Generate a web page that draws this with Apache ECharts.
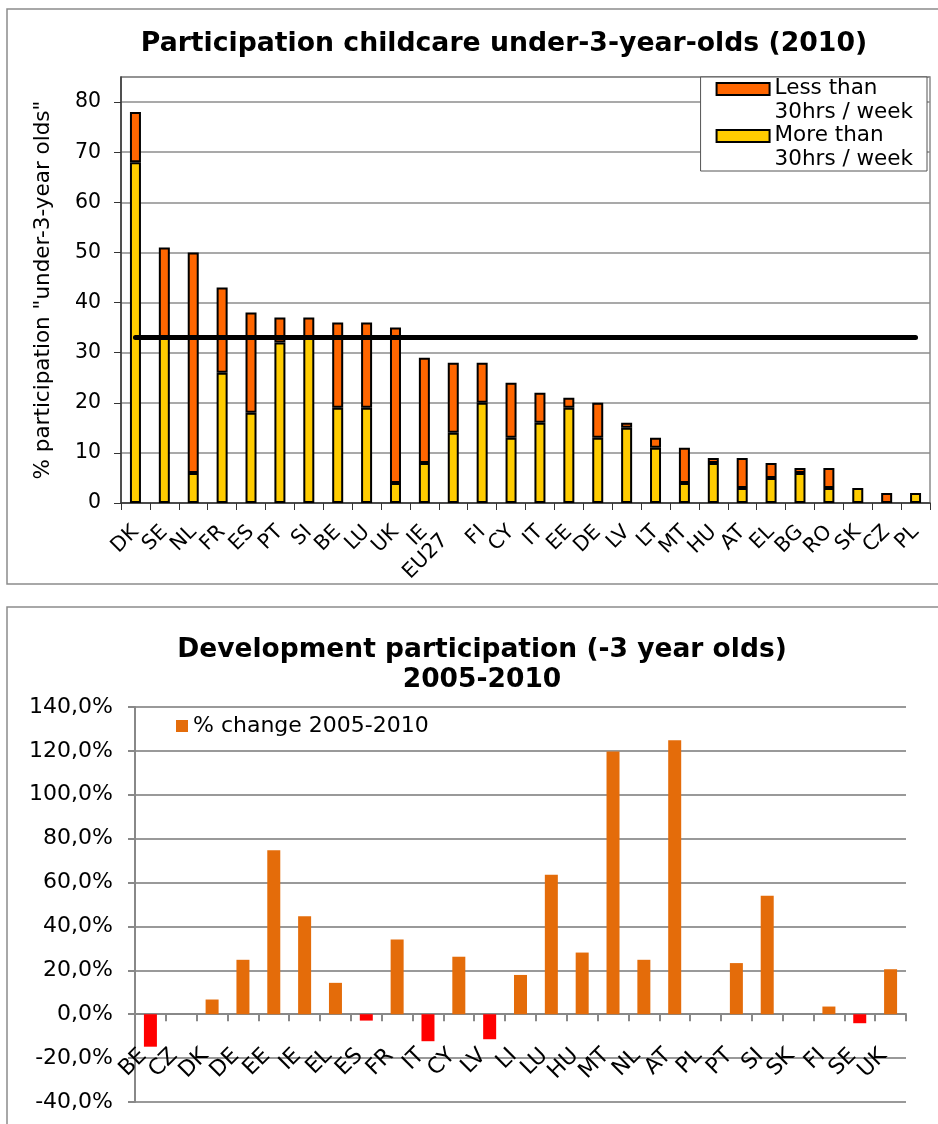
<!DOCTYPE html>
<html><head><meta charset="utf-8">
<script src="https://cdn.jsdelivr.net/npm/echarts@6/dist/echarts.min.js"></script>
<style>html,body{margin:0;padding:0;background:#fff}#c{width:938px;height:1124px}</style>
</head><body><div id="c"></div>
<script>
// ---- Chart 1: participation childcare under-3-year-olds (2010) ----
const countries2010 = ['DK','SE','NL','FR','ES','PT','SI','BE','LU','UK','IE','EU27','FI','CY','IT','EE','DE','LV','LT','MT','HU','AT','EL','BG','RO','SK','CZ','PL'];
const moreThan30hrs = [68,33,6,26,18,32,33,19,19,4,8,14,20,13,16,19,13,15,11,4,8,3,5,6,3,3,0,2];
const lessThan30hrs = [10,18,44,17,20,5,4,17,17,31,21,14,8,11,6,2,7,1,2,7,1,6,3,1,4,0,2,0];
const barcelonaTarget = [33,33,33,33,33,33,33,33,33,33,33,33,33,33,33,33,33,33,33,33,33,33,33,33,33,33,33,33];

// ---- Chart 2: development participation 2005-2010 ----
const countriesChange = ['BE','CZ','DK','DE','EE','IE','EL','ES','FR','IT','CY','LV','LI','LU','HU','MT','NL','AT','PL','PT','SI','SK','FI','SE','UK'];
const changePct = [-14.8,0,6.7,24.8,74.7,44.7,14.3,-2.9,34.1,-12.3,26.2,-11.4,17.9,63.6,28.1,119.7,24.8,124.9,0,23.3,54.0,0,3.5,-4.1,20.5];

const FONT = 'DejaVu Sans';
const ORANGE = '#FF6600', YELLOW = '#FFCC00', CHANGE = '#E46C0A', NEG = '#FF0000';

const chart = echarts.init(document.getElementById('c'), null, {renderer: 'canvas'});
const nz = v => (v === 0 ? '-' : v);

// bottom grid geometry (used to put the category axis on the 0 line)
const g2Top = 707, g2Bottom = 22, g2Min = -40, g2Max = 140;
const g2Height = 1124 - g2Top - g2Bottom;
const zeroOffset = -g2Height * (0 - g2Min) / (g2Max - g2Min);

chart.setOption({
  animation: false,
  backgroundColor: '#fff',
  textStyle: {fontFamily: FONT},
  graphic: [
    {type: 'rect', silent: true, z: -10, shape: {x: 7, y: 9, width: 1000, height: 575}, style: {fill: 'none', stroke: '#8c8c8c', lineWidth: 1.5}},
    {type: 'rect', silent: true, z: -10, shape: {x: 7, y: 607, width: 1000, height: 600}, style: {fill: 'none', stroke: '#8c8c8c', lineWidth: 1.5}}
  ],
  title: [
    {text: 'Participation childcare under-3-year-olds (2010)', left: 499, top: 26, textAlign: 'center',
     textStyle: {fontFamily: FONT, fontSize: 26.7, fontWeight: 'bold', color: '#000'}},
    {text: 'Development participation (-3 year olds)\n2005-2010', left: 477, top: 630, textAlign: 'center',
     textStyle: {fontFamily: FONT, fontSize: 26.5, fontWeight: 'bold', color: '#000', lineHeight: 30}}
  ],
  legend: [
    {data: ['Less than 30hrs / week', 'More than 30hrs / week'], orient: 'vertical',
     right: 11, top: 77, padding: [0, 14, 0, 15], itemGap: 0, itemWidth: 53, itemHeight: 45,
     icon: 'path://M0,0M53,45M0,5h53v12h-53z',
     backgroundColor: '#fff', borderColor: '#555', borderWidth: 1,
     formatter: n => n.replace(' 30', '\n30'),
     textStyle: {fontFamily: FONT, fontSize: 21.5, lineHeight: 23.5, color: '#000'}},
    {data: ['% change 2005-2010'], left: 176, top: 715, padding: 0, itemWidth: 12, itemHeight: 12, icon: 'rect',
     textStyle: {fontFamily: FONT, fontSize: 22, color: '#000'}}
  ],
  grid: [
    {left: 121, right: 8, top: 77, bottom: 621, show: true, borderColor: '#8c8c8c', borderWidth: 1.5, containLabel: false},
    {left: 135, right: 32, top: g2Top, bottom: g2Bottom, containLabel: false}
  ],
  xAxis: [
    {gridIndex: 0, type: 'category', data: countries2010,
     axisLine: {show: true, lineStyle: {color: '#333', width: 1.5}},
     axisTick: {show: true, length: 7, lineStyle: {color: '#333'}},
     axisLabel: {interval: 0, rotate: 45, margin: 26, fontSize: 20.5, color: '#000', fontFamily: FONT,
       formatter: v => (v === 'EU27' ? '{low|EU27}' : v),
       rich: {low: {fontSize: 20.5, fontFamily: FONT, color: '#000', padding: [0, 12, 0, 0]}}},
     splitLine: {show: false}},
    {gridIndex: 1, type: 'category', data: countriesChange, offset: zeroOffset,
     axisLine: {show: true, onZero: false, lineStyle: {color: '#888', width: 2}},
     axisTick: {show: true, length: 7, lineStyle: {color: '#888', width: 2}},
     axisLabel: {interval: 0, rotate: 45, margin: 31, fontSize: 22, color: '#000', fontFamily: FONT,
       formatter: v => '{c|' + v + '}',
       rich: {c: {fontSize: 22, fontFamily: FONT, color: '#000', padding: [0, 10, 0, 0]}}},
     splitLine: {show: false}}
  ],
  yAxis: [
    {gridIndex: 0, type: 'value', min: 0, max: 85, interval: 10,
     name: '% participation "under-3-year olds"', nameLocation: 'middle', nameGap: 67,
     nameTextStyle: {fontFamily: FONT, fontSize: 21.5, color: '#000'},
     axisLine: {show: true, lineStyle: {color: '#333', width: 1.5}},
     axisTick: {show: true, length: 7, lineStyle: {color: '#333'}},
     axisLabel: {margin: 20, fontSize: 20.5, color: '#000', fontFamily: FONT, showMaxLabel: false},
     splitLine: {show: true, lineStyle: {color: '#8c8c8c', width: 1.5}}},
    {gridIndex: 1, type: 'value', min: g2Min, max: g2Max, interval: 20,
     axisLine: {show: true, lineStyle: {color: '#888', width: 2}},
     axisTick: {show: true, length: 7, lineStyle: {color: '#888', width: 2}},
     axisLabel: {margin: 22, fontSize: 22, color: '#000', fontFamily: FONT,
       formatter: v => v.toFixed(1).replace('.', ',') + '%'},
     splitLine: {show: true, lineStyle: {color: '#999', width: 2}}}
  ],
  series: [
    {name: 'More than 30hrs / week', type: 'bar', xAxisIndex: 0, yAxisIndex: 0, stack: 'care', barWidth: 11,
     itemStyle: {color: YELLOW, borderColor: '#000', borderWidth: 2}, data: moreThan30hrs.map(nz)},
    {name: 'Less than 30hrs / week', type: 'bar', xAxisIndex: 0, yAxisIndex: 0, stack: 'care', barWidth: 11,
     itemStyle: {color: ORANGE, borderColor: '#000', borderWidth: 2}, data: lessThan30hrs.map(nz)},
    {name: 'Barcelona target', type: 'line', xAxisIndex: 0, yAxisIndex: 0, data: barcelonaTarget,
     symbol: 'none', silent: true, z: 5, lineStyle: {color: '#000', width: 5, cap: 'round'}},
    {name: '% change 2005-2010', type: 'bar', xAxisIndex: 1, yAxisIndex: 1, barWidth: 13,
     itemStyle: {color: CHANGE},
     data: changePct.map(v => (v < 0 ? {value: v, itemStyle: {color: NEG}} : v))}
  ]
});
</script></body></html>
